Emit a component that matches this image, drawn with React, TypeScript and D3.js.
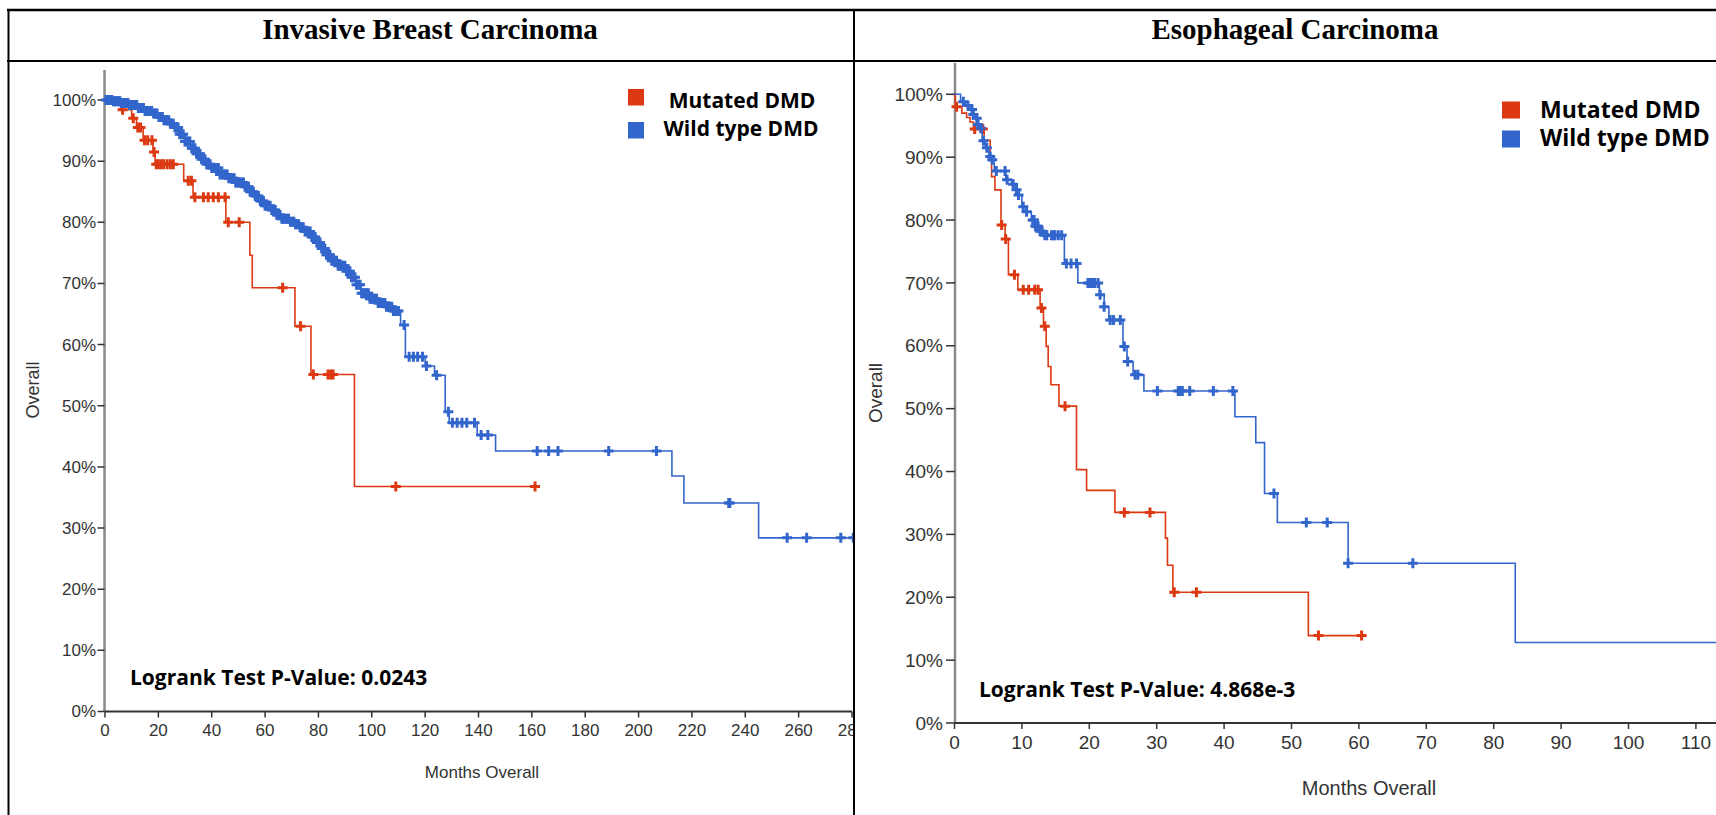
import React from 'react';
import * as d3 from 'd3';

// ---------------- DATA ----------------
const titles = ['Invasive Breast Carcinoma', 'Esophageal Carcinoma'];
const seriesNames = ['Mutated DMD', 'Wild type DMD'];
const pValues = ['Logrank Test P-Value: 0.0243', 'Logrank Test P-Value: 4.868e-3'];
const yTicks = [0, 10, 20, 30, 40, 50, 60, 70, 80, 90, 100];
const breastXTicks = [0, 20, 40, 60, 80, 100, 120, 140, 160, 180, 200, 220, 240, 260, 280];
const esoXTicks = [0, 10, 20, 30, 40, 50, 60, 70, 80, 90, 100, 110];

// Breast – Mutated DMD (step times, survival %)
const breastMutTimes = [6.0, 10.0, 11.8, 14.3, 18.0, 18.8, 29.5, 33.0, 45.3, 54.3, 55.2, 71.2, 77.2, 93.5];
const breastMutSurv = [98.4, 97.0, 95.5, 93.4, 91.5, 89.5, 86.8, 84.1, 80.0, 74.6, 69.3, 63.0, 55.1, 36.8];
const breastMutEnd = 161.3;
const breastMutCensor = [6.6, 10.6, 12.3, 13.3, 14.8, 16.0, 17.6, 18.4, 19.2, 20.0, 21.0, 22.0, 23.3, 24.5, 25.6,
  31.2, 32.4, 33.7, 36.9, 38.7, 40.6, 42.5, 45.0, 46.2, 50.3, 66.6, 73.3, 78.1, 83.6, 84.6, 85.5, 109.0, 161.2];

// Breast – Wild type DMD
const breastWtTimes = [3, 6, 9, 12, 15, 18, 20, 22, 24, 26, 28, 30, 32, 34, 36, 38, 40, 43, 46, 49, 52, 54, 56, 58,
  60, 62, 64, 66, 69, 71, 73, 75, 77, 79, 81, 83, 85, 87, 90, 92, 94, 96, 99, 102, 105, 108, 110.8, 112.6, 120,
  123.5, 127.5, 129.0, 139.5, 146.4, 212.5, 217, 245];
const breastWtSurv = [99.8, 99.5, 99.2, 98.7, 98.2, 97.8, 97.2, 96.7, 96.1, 95.5, 94.4, 93.2, 92.1, 91.2, 90.3, 89.5,
  88.9, 87.8, 87.2, 86.5, 85.8, 85.0, 84.3, 83.5, 82.7, 82.0, 81.2, 80.6, 80.1, 79.7, 79.2, 78.5, 77.6, 76.7, 75.7,
  74.7, 73.7, 72.9, 72.0, 71.0, 69.8, 68.4, 67.5, 66.8, 66.2, 65.5, 63.2, 58.0, 56.5, 55.0, 49.0, 47.2, 45.2, 42.6,
  38.5, 34.1, 28.4];
const breastWtEnd = 281;
const breastWtCensor = [0.4, 1.0, 1.5, 2.1, 2.6, 3.2, 3.8, 4.4, 5.0, 5.6, 6.1, 6.7, 7.3, 8.0, 8.6, 9.2, 9.8, 10.2,
  10.6, 11.3, 11.9, 12.5, 13.2, 13.8, 14.4, 15.0, 15.6, 16.2, 16.8, 17.5, 18.2, 18.9, 19.5, 20.2, 20.8, 21.5, 22.1,
  22.7, 23.3, 23.9, 24.5, 25.1, 25.6, 26.2, 26.8, 27.4, 28.0, 28.7, 29.3, 30.0, 30.6, 31.2, 31.8, 32.5, 33.1, 33.7,
  34.3, 35.0, 35.6, 36.2, 36.9, 37.5, 38.1, 38.8, 39.4, 40.0, 40.6, 41.3, 41.9, 42.5, 43.1, 43.8, 44.5, 45.1, 45.8,
  46.4, 47.1, 47.8, 48.4, 49.0, 49.7, 50.2, 50.6, 51.3, 51.9, 52.5, 53.2, 53.8, 54.4, 55.0, 55.6, 56.3, 56.9, 57.5,
  58.2, 58.8, 59.4, 60.0, 60.6, 61.3, 61.9, 62.5, 63.2, 63.8, 64.4, 65.0, 65.6, 66.3, 66.9, 67.5, 68.2, 68.8, 69.5,
  70.1, 70.8, 71.4, 72.0, 72.6, 73.1, 73.7, 74.3, 75.0, 75.6, 76.2, 76.9, 77.5, 78.1, 78.8, 79.4, 80.0, 80.6, 81.2,
  81.8, 82.4, 83.0, 83.7, 84.3, 85.0, 85.6, 86.2, 86.8, 87.4, 88.0, 88.7, 89.3, 89.9, 90.5, 91.2, 91.8, 92.4, 93.0,
  93.7, 94.3, 95.0, 95.6, 96.2, 96.8, 97.4, 98.0, 98.7, 99.3, 99.9, 100.5, 101.2, 101.8, 102.4, 103.0, 103.6, 104.2,
  104.9, 105.5, 106.2, 106.8, 107.5, 108.1, 108.7, 109.3, 110.0, 112.1, 114.0, 115.6, 117.2, 119.0, 120.5, 124.3,
  128.7, 130.2, 132.0, 133.8, 135.6, 138.5, 141.0, 143.5, 162.0, 166.3, 169.8, 188.8, 206.7, 233.8, 234.2, 255.7,
  263.0, 275.8, 280.5];

// Esophageal – Mutated DMD
const esoMutTimes = [0.1, 1.1, 1.8, 2.3, 2.8, 4.4, 5.3, 5.5, 6.0, 6.9, 7.5, 8.0, 9.4, 12.7, 13.2, 13.6, 13.9, 14.3,
  15.5, 18.1, 19.6, 23.8, 31.3, 31.6, 32.4, 52.5];
const esoMutSurv = [98.0, 97.0, 96.3, 95.6, 94.5, 92.7, 89.6, 86.9, 84.8, 79.2, 77.0, 71.3, 68.9, 66.0, 63.1, 59.9,
  56.7, 53.8, 50.4, 40.3, 37.0, 33.5, 29.4, 25.1, 20.8, 13.9];
const esoMutEnd = 60.4;
const esoMutCensor = [0.3, 3.0, 4.2, 7.0, 7.6, 8.9, 10.2, 11.0, 11.9, 12.4, 12.9, 13.4, 16.4, 25.2, 29.0, 32.6, 35.9,
  54.0, 60.4];

// Esophageal – Wild type DMD
const esoWtTimes = [0.9, 1.6, 2.3, 2.7, 3.1, 3.4, 3.8, 4.1, 4.6, 5.1, 5.5, 5.9, 7.6, 8.5, 9.0, 9.4, 10.0, 10.6, 11.4,
  12.0, 12.6, 13.3, 16.3, 18.3, 21.5, 22.2, 22.9, 25.0, 25.6, 26.5, 28.1, 41.6, 44.7, 46.0, 47.9, 58.4, 83.2];
const esoWtSurv = [98.8, 98.2, 97.6, 96.8, 96.2, 95.2, 94.6, 92.6, 91.5, 90.1, 89.6, 87.8, 86.4, 85.7, 84.8, 84.0,
  82.1, 81.3, 80.0, 79.0, 78.2, 77.6, 73.1, 70.0, 68.1, 66.2, 64.1, 59.9, 57.5, 55.4, 52.8, 48.7, 44.6, 36.5, 31.9,
  25.4, 12.8];
const esoWtEnd = 120;
const esoWtCensor = [1.3, 2.0, 2.6, 2.8, 3.3, 3.5, 3.9, 4.3, 4.8, 5.3, 5.6, 6.2, 7.5, 7.8, 8.7, 9.2, 9.5, 10.2, 10.7,
  11.6, 11.8, 12.0, 12.2, 12.4, 12.7, 13.0, 13.4, 13.7, 14.4, 14.7, 14.9, 15.4, 15.9, 16.6, 17.3, 18.1, 19.8, 20.1,
  20.3, 20.6, 20.8, 21.3, 21.6, 22.2, 23.1, 23.6, 24.6, 25.2, 25.7, 26.8, 27.2, 30.1, 33.2, 33.5, 33.8, 34.9, 38.4,
  41.3, 47.4, 52.2, 55.3, 58.4, 68.0];

// ---------------- STYLE ----------------
const RED = '#dc3912';
const BLUE = '#3366cc';
const SANS = "'Liberation Sans', Arial, sans-serif";
const BOLD = "'Open Sans', 'Noto Sans', sans-serif";
const SERIF = "'Liberation Serif', 'Times New Roman', serif";

type Series = { times: number[]; surv: number[]; end: number; censor: number[]; color: string };

function kmPoints(s: Series): [number, number][] {
  const pts: [number, number][] = [[0, 100]];
  s.times.forEach((t, i) => pts.push([t, s.surv[i]]));
  pts.push([s.end, s.surv[s.surv.length - 1]]);
  return pts;
}
function survAt(s: Series, t: number) {
  let v = 100;
  s.times.forEach((tt, i) => { if (tt <= t) v = s.surv[i]; });
  return v;
}

type PanelCfg = {
  id: string;
  title: string; titleX: number;
  xDomain: [number, number]; xRange: [number, number];
  yTop: number; yBottom: number; axisTop: number; axisLeft: number; axisRight: number;
  xTicks: number[]; tickFont: number; xLabelBase: number; yLabelEnd: number; yTickLen: number;
  yTitle: [number, number, number]; xTitle: [number, number, number];
  legend: { sq: [number, number][]; sqW: number; sqH: number; text: [number, number][]; anchor: string; font: number };
  pval: [number, number]; pvalText: string;
  clip: [number, number];
  series: Series[];
};

function Panel({ c }: { c: PanelCfg }) {
  const x = d3.scaleLinear().domain(c.xDomain).range(c.xRange);
  const y = d3.scaleLinear().domain([0, 100]).range([c.yBottom, c.yTop]);
  const line = d3.line<[number, number]>().x(d => x(d[0])).y(d => y(d[1])).curve(d3.curveStepAfter);
  const h = 5;
  return (
    <g>
      <defs>
        <clipPath id={c.id}>
          <rect x={c.clip[0]} y={62} width={c.clip[1] - c.clip[0]} height={760} />
        </clipPath>
      </defs>
      <text x={c.titleX} y={39} textAnchor="middle" fontFamily={SERIF} fontWeight="bold" fontSize={29} fill="#000">{c.title}</text>
      <g clipPath={`url(#${c.id})`}>
        {/* y axis */}
        <line x1={c.axisLeft} x2={c.axisLeft} y1={c.axisTop} y2={c.yBottom} stroke="#8a8a8a" strokeWidth={2.5} />
        {yTicks.map(t => (
          <g key={'y' + t}>
            <line x1={c.axisLeft - c.yTickLen} x2={c.axisLeft} y1={y(t)} y2={y(t)} stroke="#333" strokeWidth={1.5} />
            <text x={c.yLabelEnd} y={y(t)} dy="0.35em" textAnchor="end" fontFamily={SANS} fontSize={c.tickFont} fill="#333">{t + '%'}</text>
          </g>
        ))}
        {/* x axis */}
        <line x1={c.axisLeft} x2={c.axisRight} y1={c.yBottom} y2={c.yBottom} stroke="#333" strokeWidth={2} />
        {c.xTicks.map(t => (
          <g key={'x' + t}>
            <line x1={x(t)} x2={x(t)} y1={c.yBottom} y2={c.yBottom + 6} stroke="#333" strokeWidth={1.5} />
            <text x={x(t)} y={c.xLabelBase} textAnchor="middle" fontFamily={SANS} fontSize={c.tickFont} fill="#333">{t}</text>
          </g>
        ))}
        {/* curves */}
        {c.series.map((s, i) => (
          <g key={'s' + i}>
            <path d={line(kmPoints(s)) || ''} fill="none" stroke={s.color} strokeWidth={1.6} />
            {s.censor.map((t, j) => {
              const cx = x(t), cy = y(survAt(s, t));
              return (
                <path key={j} d={`M${cx - h},${cy}H${cx + h}M${cx},${cy - h}V${cy + h}`} stroke={s.color} strokeWidth={3} />
              );
            })}
          </g>
        ))}
      </g>
      <text transform={`translate(${c.yTitle[0]},${c.yTitle[1]}) rotate(-90)`} textAnchor="middle" dy="0.35em" fontFamily={SANS} fontSize={c.yTitle[2]} fill="#333">Overall</text>
      <text x={c.xTitle[0]} y={c.xTitle[1]} textAnchor="middle" fontFamily={SANS} fontSize={c.xTitle[2]} fill="#333">Months Overall</text>
      {seriesNames.map((n, i) => (
        <g key={'l' + i}>
          <rect x={c.legend.sq[i][0]} y={c.legend.sq[i][1]} width={c.legend.sqW} height={c.legend.sqH} fill={i === 0 ? RED : BLUE} />
          <text x={c.legend.text[i][0]} y={c.legend.text[i][1]} textAnchor={c.legend.anchor as any} fontFamily={BOLD} fontWeight={700} fontSize={c.legend.font} fill="#000">{n}</text>
        </g>
      ))}
      <text x={c.pval[0]} y={c.pval[1]} fontFamily={BOLD} fontWeight={700} fontSize={21} fill="#000">{c.pvalText}</text>
    </g>
  );
}

const leftCfg: PanelCfg = {
  id: 'clipL', title: titles[0], titleX: 430,
  xDomain: [0, 280], xRange: [105, 852],
  yTop: 100, yBottom: 711.5, axisTop: 70, axisLeft: 104.5, axisRight: 852,
  xTicks: breastXTicks, tickFont: 17, xLabelBase: 736, yLabelEnd: 96, yTickLen: 7,
  yTitle: [33, 390, 18], xTitle: [482, 778, 17],
  legend: { sq: [[628, 89], [628, 122]], sqW: 16, sqH: 16.5, text: [[742, 108], [741, 136]], anchor: 'middle', font: 21 },
  pval: [130, 685], pvalText: pValues[0],
  clip: [9.5, 853],
  series: [
    { times: breastMutTimes, surv: breastMutSurv, end: breastMutEnd, censor: breastMutCensor, color: RED },
    { times: breastWtTimes, surv: breastWtSurv, end: breastWtEnd, censor: breastWtCensor, color: BLUE },
  ],
};

const rightCfg: PanelCfg = {
  id: 'clipR', title: titles[1], titleX: 1295,
  xDomain: [0, 110], xRange: [954.5, 1695.9],
  yTop: 94.3, yBottom: 723, axisTop: 63, axisLeft: 955, axisRight: 1716,
  xTicks: esoXTicks, tickFont: 19, xLabelBase: 749, yLabelEnd: 943, yTickLen: 9,
  yTitle: [875, 393, 19], xTitle: [1369, 795, 20],
  legend: { sq: [[1502, 101.5], [1502, 130.5]], sqW: 18, sqH: 17, text: [[1540, 117.5], [1540, 146]], anchor: 'start', font: 23 },
  pval: [979, 697], pvalText: pValues[1],
  clip: [855, 1716],
  series: [
    { times: esoMutTimes, surv: esoMutSurv, end: esoMutEnd, censor: esoMutCensor, color: RED },
    { times: esoWtTimes, surv: esoWtSurv, end: esoWtEnd, censor: esoWtCensor, color: BLUE },
  ],
};

export default function App() {
  return (
    <svg width={1716} height={815} style={{ position: 'absolute', left: 0, top: 0, background: '#fff' }}>
      <rect x={0} y={0} width={1716} height={815} fill="#fff" />
      <Panel c={leftCfg} />
      <Panel c={rightCfg} />
      {/* table borders */}
      <line x1={7} x2={1716} y1={10} y2={10} stroke="#000" strokeWidth={2.5} />
      <line x1={7} x2={1716} y1={61} y2={61} stroke="#000" strokeWidth={2} />
      <line x1={8.5} x2={8.5} y1={9} y2={815} stroke="#000" strokeWidth={2} />
      <line x1={854} x2={854} y1={9} y2={815} stroke="#000" strokeWidth={2} />
    </svg>
  );
}
